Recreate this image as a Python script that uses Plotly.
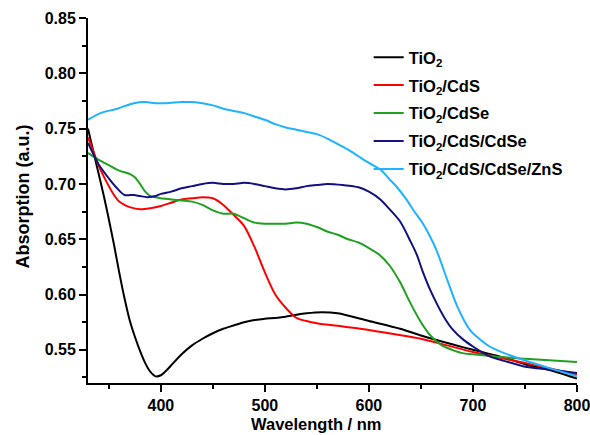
import plotly.graph_objects as go

# ---------------- data ----------------
labels = ["TiO<sub>2</sub>", "TiO<sub>2</sub>/CdS", "TiO<sub>2</sub>/CdSe",
          "TiO<sub>2</sub>/CdS/CdSe", "TiO<sub>2</sub>/CdS/CdSe/ZnS"]
colors = ["#000000", "#ff0000", "#1fa01f", "#12127e", "#1eb2ff"]

wl_tio2 = [330, 335, 340, 345, 350, 355, 360, 365, 370, 375, 380, 385, 390, 395, 400, 405,
           410, 420, 430, 440, 450, 460, 470, 480, 490, 500, 520, 540, 555, 570, 600, 630,
           650, 680, 700, 730, 750, 780, 800]
ab_tio2 = [0.750, 0.730, 0.710, 0.690, 0.668, 0.645, 0.620, 0.597, 0.577, 0.562, 0.549, 0.538,
           0.530, 0.526, 0.527, 0.531, 0.536, 0.546, 0.554, 0.560, 0.565, 0.569, 0.572, 0.575,
           0.577, 0.578, 0.580, 0.583, 0.584, 0.583, 0.576, 0.569, 0.563, 0.555, 0.550, 0.543,
           0.537, 0.530, 0.524]

wl_cds = [330, 335, 340, 345, 350, 355, 360, 365, 370, 380, 390, 400, 410, 420, 430, 440,
          450, 460, 470, 480, 490, 500, 510, 520, 530, 540, 550, 575, 600, 625, 650, 675,
          700, 725, 750, 775, 800]
ab_cds = [0.742, 0.730, 0.717, 0.707, 0.698, 0.690, 0.684, 0.681, 0.679, 0.677, 0.678, 0.680,
          0.683, 0.686, 0.687, 0.688, 0.687, 0.681, 0.672, 0.662, 0.643, 0.620, 0.600, 0.588,
          0.579, 0.576, 0.574, 0.571, 0.568, 0.564, 0.560, 0.554, 0.548, 0.543, 0.538, 0.533,
          0.528]

wl_cdse = [330, 340, 350, 360, 370, 375, 380, 385, 390, 395, 400, 410, 420, 430, 440, 450,
           460, 470, 480, 490, 500, 510, 520, 530, 540, 550, 560, 570, 580, 590, 600, 610,
           620, 630, 640, 650, 660, 670, 680, 690, 700, 720, 750, 800]
ab_cdse = [0.728, 0.722, 0.717, 0.712, 0.709, 0.706, 0.700, 0.693, 0.689, 0.688, 0.687, 0.686,
           0.685, 0.684, 0.681, 0.676, 0.673, 0.673, 0.669, 0.665, 0.664, 0.664, 0.664, 0.665,
           0.664, 0.661, 0.657, 0.654, 0.650, 0.647, 0.642, 0.636, 0.626, 0.611, 0.592, 0.575,
           0.562, 0.554, 0.550, 0.547, 0.546, 0.544, 0.542, 0.539]

wl_cds_cdse = [330, 340, 350, 357, 365, 374, 380, 387, 395, 400, 410, 420, 430, 440, 450, 460,
               470, 480, 490, 500, 510, 520, 530, 540, 550, 560, 575, 590, 600, 611, 620, 630,
               640, 646, 652, 659, 672, 680, 691, 700, 716, 730, 749, 775, 800]
ab_cds_cdse = [0.737, 0.718, 0.705, 0.697, 0.690, 0.690, 0.689, 0.688, 0.689, 0.691, 0.693,
               0.696, 0.698, 0.700, 0.701, 0.700, 0.700, 0.701, 0.700, 0.698, 0.696, 0.695,
               0.696, 0.698, 0.699, 0.700, 0.699, 0.697, 0.693, 0.686, 0.677, 0.666, 0.648,
               0.636, 0.620, 0.604, 0.580, 0.569, 0.559, 0.553, 0.544, 0.540, 0.535, 0.532,
               0.529]

wl_zns = [330, 342, 358, 374, 385, 395, 405, 420, 430, 440, 450, 460, 470, 480, 490, 500,
          510, 520, 530, 540, 550, 560, 570, 580, 590, 600, 611, 620, 627, 636, 643, 652,
          659, 665, 675, 685, 697, 706, 716, 730, 748, 775, 800]
ab_zns = [0.758, 0.764, 0.768, 0.773, 0.774, 0.773, 0.773, 0.774, 0.774, 0.773, 0.771, 0.768,
          0.766, 0.764, 0.761, 0.758, 0.754, 0.751, 0.749, 0.747, 0.745, 0.741, 0.736, 0.731,
          0.725, 0.719, 0.713, 0.704, 0.697, 0.686, 0.676, 0.664, 0.652, 0.640, 0.614, 0.589,
          0.568, 0.560, 0.553, 0.547, 0.541, 0.533, 0.526]

series_x = [wl_tio2, wl_cds, wl_cdse, wl_cds_cdse, wl_zns]
series_y = [ab_tio2, ab_cds, ab_cdse, ab_cds_cdse, ab_zns]

x_range = [330, 800]
y_range = [0.52, 0.85]
x_title = "Wavelength / nm"
y_title = "Absorption (a.u.)"

# ---------------- figure ----------------
FONT = "Liberation Sans, Arial, sans-serif"
fig = go.Figure()
for i, (xs, ys) in enumerate(zip(series_x, series_y)):
    fig.add_trace(go.Scatter(
        x=xs, y=ys, mode="lines", name=labels[i], legendgroup=f"g{i}",
        line=dict(color=colors[i], width=2, shape="spline", smoothing=0.8),
    ))

axis_common = dict(
    showline=True, linecolor="black", linewidth=2, mirror=False,
    showgrid=False, zeroline=False, automargin=False,
    ticks="outside", ticklen=7, tickwidth=2, tickcolor="black",
    ticklabeloverflow="allow",
    tickfont=dict(family=FONT, size=16, color="black", weight="bold"),
)

fig.update_xaxes(
    range=x_range, tick0=400, dtick=100,
    minor=dict(ticks="outside", ticklen=4, tickwidth=2, tickcolor="black", dtick=50, tick0=350),
    **axis_common,
)
fig.update_yaxes(
    range=y_range, tick0=0.55, dtick=0.05, tickformat=".2f",
    minor=dict(ticks="outside", ticklen=4, tickwidth=2, tickcolor="black", dtick=0.025, tick0=0.525),
    **axis_common,
)

fig.add_annotation(
    text=x_title, xref="paper", yref="paper", x=0.468, y=-0.112,
    xanchor="center", yanchor="middle", showarrow=False,
    font=dict(family=FONT, size=16.5, color="black", weight="bold"),
)
fig.add_annotation(
    text=y_title, xref="paper", yref="paper", x=-0.131, y=0.511, textangle=-90,
    xanchor="center", yanchor="middle", showarrow=False,
    font=dict(family=FONT, size=18, color="black", weight="bold"),
)

fig.update_layout(
    width=590, height=435,
    margin=dict(l=88, r=13, t=18, b=52),
    plot_bgcolor="white", paper_bgcolor="white",
    showlegend=True,
    legend=dict(
        x=0.574, y=0.94, xanchor="left", yanchor="top",
        bgcolor="rgba(0,0,0,0)", borderwidth=0,
        font=dict(family=FONT, size=16.5, color="black", weight="bold"),
        tracegroupgap=3.5, traceorder="grouped",
    ),
)

fig.write_html("out.html")
